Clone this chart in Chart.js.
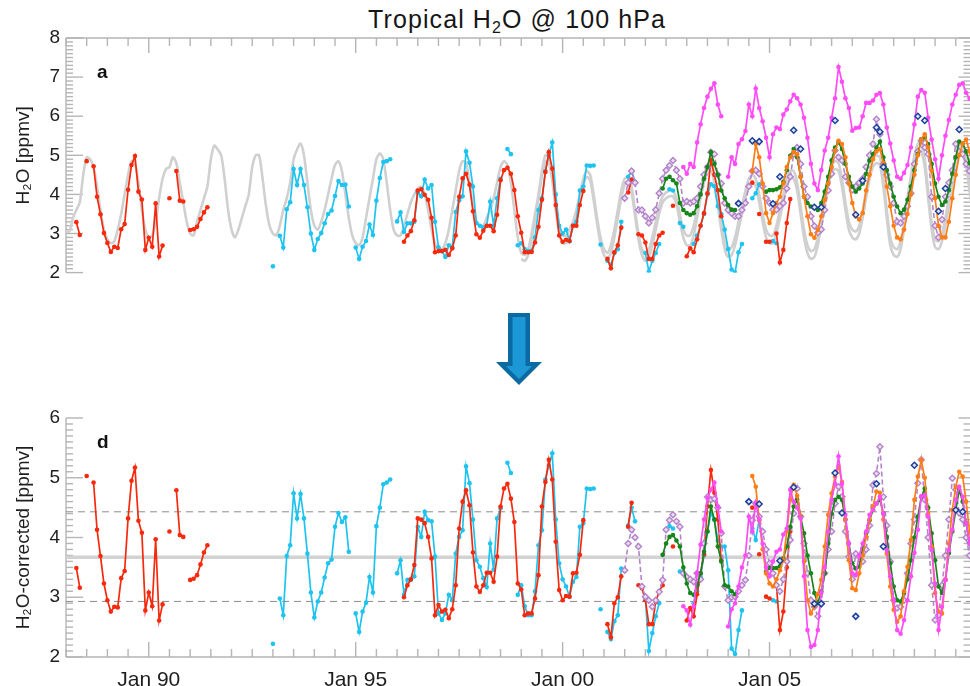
<!DOCTYPE html>
<html><head><meta charset="utf-8">
<script src="https://cdn.jsdelivr.net/npm/chart.js@4.4.1/dist/chart.umd.min.js"></script>
<style>
html,body{margin:0;padding:0;background:#fff;width:970px;height:686px;overflow:hidden;position:relative;font-family:"Liberation Sans",Arial,Helvetica,sans-serif;}
#title{position:absolute;left:0;width:1034px;top:5px;text-align:center;font-size:25px;letter-spacing:1.1px;color:#161616;white-space:nowrap;}
#title sub{font-size:16px;vertical-align:-5px;line-height:0;}
.box{position:absolute;left:0;}
#topBox{top:0;}
#botBox{top:400px;}
.lab{position:absolute;font-weight:bold;font-size:19px;color:#111;}
#arrow{position:absolute;left:0;top:0;pointer-events:none;}
</style></head>
<body>
<div id="title">Tropical H<sub>2</sub>O @ 100 hPa</div>
<div class="box" id="topBox"><canvas id="cTop" width="976" height="290"></canvas></div>
<div class="box" id="botBox"><canvas id="cBot" width="976" height="300"></canvas></div>
<div class="lab" style="left:97px;top:61px;">a</div>
<div class="lab" style="left:97px;top:431px;">d</div>
<svg id="arrow" width="970" height="686">
  <polygon points="508,313 530,313 530,362 542,362 519,385 496,362 508,362" fill="#0a6aa1"/>
  <polygon points="512.5,317 525.5,317 525.5,366 532,366 519,379 506,366 512.5,366" fill="#1b98d5"/>
</svg>
<script>
// ---------------- axis / tick data ----------------
const X0 = 1988, X1 = 2009.88;            // time axis range (decimal years)
const xTickYears = [1990, 1995, 2000, 2005];
const xTickLabels = ['Jan 90', 'Jan 95', 'Jan 00', 'Jan 05'];
const topYRange = [2, 8];
const botYRange = [2, 6];
const refMean = 3.67, refHigh = 4.43, refLow = 2.93;   // panel d reference lines

// ---------------- model (grey) monthly values, month index 0 = Jan 1988 ----------------
const grayA_start = 0;
const grayA = [
 3.05,3.05,3.4,3.6,3.8,4.5,4.95,4.9,4.7,4.2,3.6,3.1,
 2.85,2.75,2.8,3.1,3.5,4.0,4.5,4.85,4.8,4.3,3.6,3.1,
 2.9,2.95,3.3,3.9,4.4,4.65,4.7,4.95,4.8,4.3,3.8,3.3,
 3.0,2.95,3.3,3.6,3.9,4.2,4.9,5.25,5.15,5.0,4.4,3.6,
 3.1,2.9,3.1,3.4,3.7,4.0,4.7,5.0,5.0,4.4,3.7,3.2,
 3.0,2.95,3.2,3.6,3.9,4.3,4.9,5.15,5.3,5.0,4.3,3.6,
 3.2,3.1,3.3,3.6,4.0,4.4,4.75,4.85,4.6,4.0,3.4,2.95,
 2.75,2.7,2.9,3.4,3.9,4.4,4.9,5.05,4.9,4.3,3.6,3.1,
 2.95,2.95,3.2,3.5,3.8,4.0,4.15,4.2,4.0,3.6,3.1,2.75,
 2.6,2.6,2.75,3.1,3.6,4.1,4.6,4.85,4.8,4.3,3.7,3.3,
 3.2,3.2,3.4,3.6,3.9,4.3,4.7,4.85,4.75,4.3,3.6,2.9,
 2.5,2.45,2.6,3.0,3.5,4.0,4.6,5.0,4.95,4.5,3.8,3.2,
 2.95,2.95,3.1,3.3,3.6,4.0,4.4,4.6,4.5,4.0,3.4,2.9,
 2.6,2.5,2.7,3.1,3.6,4.1,4.4,4.45,4.2,3.6,3.0,2.6,
 2.5,2.6,2.9,3.3,3.7,3.95,4.05,4.1,4.1,3.9,3.5,3.1,
 2.95,2.95,3.2,3.6,4.1,4.5,4.75,4.8,4.5,3.9,3.3,2.8,
 2.6,2.65,2.9,3.3,3.7,4.1,4.4,4.5,4.4,4.0,3.5,3.1,
 2.95,2.95,3.2,3.6,4.0,4.4,4.6,4.6,4.3,3.7,3.1,2.7,
 2.55,2.6,2.9,3.4,3.9,4.4,4.75,4.85,4.8,4.4,3.8,3.3,
 3.1,3.05,3.2,3.6,4.1,4.6,4.9,5.0,4.95,4.4,3.6,2.9,
 2.65,2.6,2.8,3.3,3.9,4.5,5.0,5.3,5.3,4.9,4.1,3.3,
 2.85,2.8,3.0,3.4,3.9,4.4,4.9,5.25,5.2,4.9,4.3,3.6];
const grayB_start = 132;
const grayB = [
 2.35,2.3,2.45,2.85,3.35,3.9,4.45,4.85,4.8,4.35,3.6,3.0,
 2.75,2.75,2.9,3.15,3.45,3.85,4.25,4.45,4.35,3.85,3.25,2.75,
 2.45,2.35,2.5,2.9,3.4,3.9,4.25,4.3,4.05,3.45,2.85,2.45,
 2.3,2.4,2.7,3.1,3.5,3.8,3.9,3.95,3.95,3.75,3.3,2.9,
 2.7,2.7,2.95,3.4,3.9,4.3,4.55,4.6,4.3,3.7,3.1,2.6,
 2.4,2.45,2.7,3.1,3.5,3.9,4.2,4.3,4.2,3.8,3.3,2.9,
 2.75,2.75,3.0,3.4,3.8,4.2,4.4,4.4,4.1,3.5,2.9,2.5,
 2.35,2.4,2.7,3.2,3.7,4.2,4.55,4.65,4.6,4.2,3.6,3.1,
 2.9,2.85,3.0,3.4,3.9,4.4,4.7,4.8,4.75,4.2,3.4,2.7,
 2.45,2.4,2.6,3.1,3.7,4.3,4.8,5.1,5.1,4.7,3.9,3.1,
 2.65,2.6,2.8,3.2,3.7,4.2,4.7,5.05,5.0,4.7,4.1,3.4];

// ---------------- red series (two records) ----------------
const redA_start = 3;
const redA_top = [3.29,2.96,null,4.85,null,4.72,3.94,3.49,3.01,
 2.76,2.53,2.66,2.63,3.11,3.24,4.12,4.75,4.98,4.07,3.87,2.58,
 2.89,2.66,3.77,2.41,2.69,null,3.90,null,4.60,3.84,3.82,null,
 3.09,3.11,3.17,3.37,3.54,3.67];
const redA_bot = [3.49,3.16,null,5.03,null,4.92,4.13,3.69,3.23,
 2.95,2.76,2.84,2.83,3.32,3.44,4.32,4.95,5.17,4.28,4.08,2.78,
 3.08,2.85,3.97,2.61,2.88,null,4.10,null,4.79,4.04,4.01,null,
 3.29,3.31,3.37,3.55,3.75,3.87];
const redB_start = 98;
const redB_top = [2.79,2.95,3.06,3.34,4.10,4.13,3.99,3.86,3.40,2.52,
 2.55,2.55,2.58,2.45,2.62,2.95,3.94,4.41,4.53,4.25,3.57,2.98,
 2.89,3.07,3.20,3.20,3.06,3.48,4.36,4.62,4.68,4.53,4.11,3.44,
 3.02,2.52,2.52,2.53,2.77,3.17,3.86,4.57,5.08,4.66,3.73,2.95,
 2.79,2.84,2.81,3.20,3.20,3.73,4.09,null,null,null,null,null,
 null,2.35,2.11,2.52,2.70,3.15,null,4.05,4.38,null,2.98,2.95,
 2.77,2.35,2.35,2.73,2.95,3.02,null,null,3.71,null,null,null,
 2.42,2.62,2.52,2.85,3.2,3.52,4.03,4.88,4.5,4.11,3.44,null,
 null,null,null,null,null,null,null,4.3,null,3.5,null,2.79,
 2.79,null,3.0,2.26,2.58,3.27,3.88];
const redB_bot = [3.0,3.2,3.3,3.54,4.32,4.30,4.24,4.01,3.65,2.7,
 2.87,2.76,2.79,2.65,2.8,3.2,4.15,4.6,4.79,4.54,3.75,3.18,
 3.09,3.2,3.41,3.41,3.26,3.68,4.52,4.82,4.9,4.65,4.26,3.23,
 3.13,2.7,2.73,2.73,2.98,3.37,4.52,4.93,5.3,4.97,3.93,3.12,
 2.95,3.02,3.01,3.4,3.41,3.71,4.29,null,null,null,null,null,
 null,2.55,2.33,2.9,3.0,3.35,null,4.18,4.58,null,3.2,3.15,
 2.95,2.55,2.55,2.92,3.1,3.2,null,null,3.85,null,null,null,
 2.61,2.82,2.68,3.05,3.4,3.72,4.52,5.13,4.75,4.3,3.62,null,
 null,null,null,null,null,null,null,4.5,null,3.72,null,3.01,
 2.98,null,3.2,2.45,2.76,3.5,4.1];

// ---------------- cyan series ----------------
const cyan_start = 60;
const cyan_top = [2.16,null,2.94,2.64,3.62,3.80,4.65,4.24,4.65,4.24,3.67,3.00,
 2.58,2.86,3.01,3.26,3.50,3.59,3.96,4.34,4.24,4.25,3.69,null,
 2.64,2.35,2.66,2.81,3.23,2.96,3.84,4.42,4.83,4.85,4.90,null,
 3.31,3.54,3.04,3.26,3.26,3.3,4.05,3.95,4.38,4.15,4.24,3.3,
 2.65,2.55,2.4,2.7,2.65,3.55,3.85,3.95,5.1,4.81,4.2,3.27,
 3.2,3.15,3.2,3.82,3.2,3.9,4.4,null,5.16,5.03,null,2.7,
 2.75,2.6,2.55,2.55,2.9,3.6,3.9,4.6,5.0,5.33,4.0,3.2,
 3.0,3.1,2.8,3.2,3.3,4.1,4.2,4.74,4.73,4.74,null,2.72,
 null,2.3,2.2,2.5,2.6,3.3,null,4.45,4.6,4.32,null,null,
 2.5,2.03,2.3,2.5,2.73,null,null,4.13,4.1,null,3.27,3.17,
 null,null,2.73,2.95,3.2,3.5,4.0,4.26,4.21,3.7,3.5,3.1,
 2.6,2.08,2.0,2.52,2.73,null,null,3.9,4.03,4.26,null,null,
 null,2.81,2.75];
const cyan_bot = [2.22,null,2.98,2.7,3.69,3.87,4.74,4.32,4.73,4.32,3.73,3.08,
 2.66,2.93,3.08,3.33,3.57,3.63,4.18,4.41,4.26,4.34,3.76,null,
 2.73,2.42,2.76,2.91,3.34,3.08,4.19,4.50,4.89,4.92,4.97,null,
 3.40,3.62,3.04,3.29,3.29,3.35,4.18,4.01,4.43,4.29,4.27,3.68,
 2.73,2.62,2.73,3.04,2.95,3.73,4.01,4.12,5.19,4.91,4.3,3.62,
 3.51,3.32,3.17,3.9,3.46,4.32,4.49,null,5.25,5.08,null,3.04,
 3.2,2.85,2.7,2.7,3.1,3.87,4.12,4.97,5.2,5.41,4.3,3.57,
 3.3,3.18,3.01,3.26,3.34,4.18,4.24,4.82,4.81,4.82,null,2.8,
 null,2.42,2.3,2.6,2.70,3.48,null,4.2,4.5,4.27,null,null,
 3.0,2.1,2.4,2.68,2.9,null,null,4.19,4.15,null,3.43,3.4,
 null,null,2.9,3.1,3.35,3.7,4.1,4.4,4.3,3.95,3.85,3.85,
 3.45,2.14,2.05,2.45,2.78,null,null,4.15,3.96,4.3,null,null,
 null,2.95,2.93];

// ---------------- purple (dashed, diamonds) ----------------
const purple_start = 162;
const purple_top = [3.9,4.3,4.6,4.3,3.6,3.6,
 3.44,3.27,3.4,3.61,4.03,4.40,4.62,4.74,4.87,4.62,4.40,3.78,
 3.82,3.78,3.82,3.9,4.2,4.5,4.7,5.08,5.03,4.5,4.28,3.78,
 3.6,3.52,3.44,3.44,3.6,3.78,4.2,4.6,4.62,4.53,4.2,3.9,
 3.78,3.61,3.61,3.7,3.78,4.15,4.45,5.03,5.2,4.78,4.2,3.94,
 3.44,3.19,3.02,3.1,3.6,4.1,4.53,5.12,4.95,4.87,4.45,4.3,
 4.11,4.2,4.3,4.4,4.7,5.0,5.29,5.92,5.54,4.78,4.5,4.2,
 3.78,3.3,3.27,3.44,3.7,4.03,4.78,5.1,5.37,5.2,5.03,3.94,
 3.2,2.9,3.36,3.94,4.3,4.62,5.29,5.1,5.03,4.78,4.6,4.4];
const purple_bot = [3.45,3.9,4.13,4.0,3.85,3.18,
 3.01,2.95,2.84,2.95,3.09,3.29,4.13,4.29,4.38,4.27,4.18,3.4,
 3.34,3.3,3.26,3.4,3.3,3.9,4.68,4.63,4.65,4.5,4.07,3.18,
 2.95,3.0,3.01,3.1,3.2,3.29,3.7,4.29,4.57,4.35,4.1,3.8,
 3.57,3.4,3.2,3.1,3.3,3.6,3.96,4.4,4.82,4.35,3.9,3.4,
 2.95,2.84,2.68,2.9,3.4,3.8,4.1,4.57,4.85,4.68,4.1,3.68,
 3.3,3.73,3.68,3.6,3.8,4.2,4.88,5.07,5.52,4.68,4.2,3.6,
 2.95,2.82,2.84,2.95,3.4,3.9,4.3,4.91,5.3,4.63,4.0,3.2,
 2.62,2.7,3.2,3.7,4.3,4.99,4.8,4.41,4.3,4.0,3.7,3.5];

// ---------------- green ----------------
const green_start = 173;
const green_top = [4.15,4.40,4.45,4.36,4.28,3.78,3.6,
 3.52,3.48,3.52,3.7,4.0,4.4,4.7,5.08,4.78,4.5,4.1,3.9,
 3.73,3.61,3.6,null,null,null,null,null,null,null,null,4.07,
 4.11,4.11,4.13,4.18,4.32,4.62,4.99,5.16,4.95,4.45,3.94,3.78,
 3.69,3.65,3.6,3.78,4.07,4.45,4.87,5.2,5.33,5.16,4.78,4.45,
 4.2,4.07,4.15,4.28,4.53,4.87,5.03,5.2,5.35,4.95,4.62,4.28,
 3.94,3.69,3.52,3.61,3.86,4.2,4.62,5.03,5.41,5.46,5.29,4.78,
 4.28,3.94,3.73,3.82,4.11,4.53,4.95,5.35,5.3,5.1,4.8,4.5];
const green_bot = [3.71,3.9,4.01,4.04,3.95,3.85,3.5,
 3.23,3.07,3.04,3.2,3.4,3.76,4.1,4.52,4.3,3.85,3.6,3.2,
 3.18,3.1,3.05,null,null,null,null,null,null,null,null,3.43,
 3.49,3.49,3.49,3.52,3.65,3.85,4.18,4.52,4.63,4.35,4.07,3.7,
 3.4,3.07,2.9,3.1,3.4,3.9,4.4,4.63,4.68,4.63,4.3,3.9,
 3.57,3.48,3.51,3.82,4.07,4.29,4.46,4.57,4.63,4.4,4.01,3.57,
 3.18,2.95,2.93,3.07,3.3,3.62,4.0,4.35,4.68,4.82,4.5,4.07,
 3.62,3.18,3.07,3.29,3.74,4.1,4.46,4.8,4.6,4.24,3.9,3.6];

// ---------------- orange ----------------
const orange_start = 199;
const orange_top = [4.6,5.29,4.95,4.28,3.52,
 3.27,3.52,3.78,3.94,4.28,4.7,4.95,5.08,5.03,4.45,3.94,3.44,
 2.98,2.89,3.1,3.44,3.86,4.28,4.7,5.12,5.37,5.29,4.95,4.28,
 3.78,3.44,3.36,3.52,4.1,4.5,4.9,5.1,5.16,4.8,4.2,3.7,
 3.2,2.9,2.85,3.1,3.5,4.0,4.5,5.0,5.4,5.54,5.2,4.6,
 3.9,3.2,2.9,2.9,3.3,3.9,4.5,5.0,5.3,5.4,5.1,4.6];
const orange_bot = [5.03,4.85,4.29,3.8,3.4,
 3.23,3.18,3.3,3.45,3.62,4.1,4.63,4.88,4.7,4.35,3.6,2.95,
 2.73,2.85,3.05,3.29,3.85,4.38,4.74,5.02,5.19,4.93,4.3,3.62,
 3.15,3.12,3.4,3.7,4.01,4.3,4.52,4.77,4.75,4.3,3.73,3.18,
 2.79,2.59,2.68,3.1,3.51,3.96,4.63,5.02,5.3,5.0,4.4,3.85,
 3.07,2.76,2.73,3.3,3.9,4.46,4.85,5.1,5.02,4.6,4.1,3.7];

// ---------------- magenta ----------------
const magenta_start = 179;
const magenta_top = [4.70,
 4.53,4.78,4.7,5.33,5.79,6.21,6.5,6.7,6.84,6.3,6.0,null,
 4.45,4.95,4.78,5.29,5.41,5.62,6.3,6.0,6.71,6.21,5.87,5.45,
 4.95,5.54,5.71,5.67,6.04,6.17,6.38,6.55,6.46,6.3,5.96,5.45,
 4.78,4.28,4.11,4.62,5.12,5.45,5.96,6.46,7.26,6.88,6.46,6.21,
 5.63,5.7,5.71,6.0,6.34,6.34,6.4,6.55,6.59,6.3,5.71,5.3,
 4.87,4.45,4.4,4.55,4.75,5.2,5.79,6.5,6.67,6.6,5.96,5.4,
 4.9,4.4,5.0,5.5,5.9,6.3,6.55,6.8,6.84,6.6,6.45,6.3];
const magenta_bot = [2.85,
 2.78,2.54,2.85,3.4,3.88,4.3,4.66,4.8,4.92,4.52,4.1,null,
 2.51,2.8,2.9,3.18,3.5,3.7,4.35,4.1,4.58,4.3,3.9,3.5,
 3.35,3.6,3.76,3.8,4.05,4.15,4.8,4.6,4.5,4.32,3.35,2.45,
 2.17,2.2,2.45,3.08,3.5,4.1,4.63,4.9,5.36,4.9,4.38,3.9,
 3.4,3.37,3.7,3.9,4.1,4.38,4.46,4.57,4.68,4.4,3.79,3.35,
 2.95,2.45,2.39,2.62,2.95,3.35,3.74,4.13,4.69,4.71,4.35,3.79,
 3.23,2.45,2.84,3.29,3.79,4.13,4.63,4.85,4.68,4.24,3.9,3.6];

// ---------------- navy open diamonds (no line) ----------------
const navy_start = 195;
const navy_top = [3.77,null,null,null,5.37,null,5.35,null,null,
 null,3.76,null,4.45,null,null,null,5.64,null,5.16,null,null,
 null,3.67,null,3.67,null,null,null,5.89,null,null,null,null,
 null,3.48,null,4.35,null,null,null,5.71,5.6,4.7,null,null,
 null,null,null,null,null,null,null,6.0,null,5.89,null,null,
 null,3.57,null,4.15,null,null,null,5.66,null];
const navy_bot = [null,null,null,4.6,null,null,4.56,null,null,
 null,null,null,3.61,null,null,null,4.84,null,null,null,null,
 null,2.89,null,2.89,null,null,null,5.08,null,4.41,null,null,
 null,2.68,null,null,null,null,null,4.9,null,3.85,null,null,
 null,null,null,null,null,null,5.21,null,null,null,null,null,
 null,null,null,null,null,null,4.46,null,4.43];

// ---------------- helpers ----------------
function pts(start, vals) { return vals.map((v, i) => ({ x: X0 + (start + i) / 12, y: v })); }
function joinSegs(a, b) { return a.concat([{ x: (a[a.length - 1].x + b[0].x) / 2, y: null }], b); }

const C = {
  red: '#f7290c', cyan: '#1fc3ef', purple: '#b384c9', green: '#17861a',
  orange: '#ff7d16', magenta: '#ff4cf7', navy: '#1d3f9c', gray: '#d0d0d0'
};

function lineDS(label, data, color, order, extra) {
  return Object.assign({
    label, data, order, borderColor: color, backgroundColor: color,
    pointBackgroundColor: color, pointBorderColor: color, pointBorderWidth: 0,
    borderWidth: 1.7, pointRadius: 2.3, pointHoverRadius: 2.3, tension: 0, spanGaps: false
  }, extra || {});
}
function grayDS(label, data) {
  return { label, data, order: 20, borderColor: C.gray, borderWidth: 2.6, pointRadius: 0, tension: 0.25 };
}
function purpleDS(data) {
  return lineDS('purple', data, C.purple, 5, { borderDash: [5, 3], borderWidth: 1.6, pointStyle: 'rectRot', pointRadius: 3.0,
    pointBackgroundColor: '#eadcf1', pointBorderColor: C.purple, pointBorderWidth: 1.4 });
}
function navyDS(data) {
  return lineDS('navy', data, C.navy, 1, { showLine: false, pointStyle: 'rectRot', pointRadius: 3.0,
    pointBackgroundColor: '#dfe6f5', pointBorderColor: C.navy, pointBorderWidth: 1.5 });
}
function hline(label, v, dash, color, w) {
  return { label, data: [{ x: X0, y: v }, { x: X1, y: v }], order: 21, borderColor: color, borderWidth: w,
    borderDash: dash, pointRadius: 0 };
}

// frame & tick marks drawn from the chart's own scales
const framePlugin = {
  id: 'frame',
  beforeDatasetsDraw(chart, args, opts) {
    const { ctx, chartArea: { left, right, top, bottom }, scales: { x, y } } = chart;
    ctx.save();
    ctx.strokeStyle = '#b5b5b5';
    ctx.lineWidth = 1.4;
    const L = (a, b, c, d) => { ctx.beginPath(); ctx.moveTo(a, b); ctx.lineTo(c, d); ctx.stroke(); };
    L(left, top, left, bottom);
    const fy = opts.side === 'top' ? top : bottom;
    L(left, fy, right + 6, fy);
    for (let k = 0; X0 + k * 0.5 <= X1 + 1e-6; k++) {
      const t = X0 + k * 0.5, px = x.getPixelForValue(t);
      const major = Math.abs(t % 5) < 1e-6;
      const len = major ? 15 : 8;
      if (opts.side === 'top') L(px, top, px, top + len); else L(px, bottom, px, bottom - len);
    }
    for (let i = Math.round(y.min * 10); i <= Math.round(y.max * 10); i++) {
      const py = y.getPixelForValue(i / 10);
      const major = i % 10 === 0;
      L(left, py, left + (major ? 17 : 7), py);
      L(right, py, right - (major ? 13 : 8), py);
    }
    ctx.restore();
  }
};

Chart.defaults.font.family = '"Liberation Sans", Arial, Helvetica, sans-serif';
Chart.defaults.color = '#1e1e1e';

function makeOptions(yr, yTitle, side, showX) {
  const xScale = {
    type: 'linear', min: X0, max: X1, display: showX,
    grid: { display: false, drawTicks: false }, border: { display: false },
    afterBuildTicks: s => { s.ticks = xTickYears.map(v => ({ value: v })); },
    ticks: { autoSkip: false, maxRotation: 0, padding: 11, font: { size: 21 }, color: '#1e1e1e',
      callback: (v, i) => xTickLabels[i] }
  };
  if (showX) xScale.afterFit = s => { s.height = 43; };
  return {
    responsive: false, animation: false, events: [],
    layout: { padding: side === 'top' ? { top: 38, bottom: 13, left: 0, right: 4 } : { top: 18, bottom: 0, left: 0, right: 4 } },
    plugins: { legend: { display: false }, tooltip: { enabled: false }, frame: { side } },
    scales: {
      x: xScale,
      y: {
        min: yr[0], max: yr[1],
        grid: { display: false, drawTicks: false }, border: { display: false },
        afterFit: s => { s.width = 66; },
        ticks: { stepSize: 1, padding: 6, font: { size: 19 }, color: '#1e1e1e' },
        title: { display: true, text: yTitle, font: { size: 19 }, color: '#1e1e1e', padding: { top: 12, bottom: 0 } }
      }
    }
  };
}

// ---------------- top panel (a) ----------------
new Chart(document.getElementById('cTop'), {
  type: 'line',
  data: { datasets: [
    grayDS('model A', pts(grayA_start, grayA)),
    grayDS('model B', pts(grayB_start, grayB)),
    lineDS('red', joinSegs(pts(redA_start, redA_top), pts(redB_start, redB_top)), C.red, 6),
    lineDS('cyan', pts(cyan_start, cyan_top), C.cyan, 7),
    purpleDS(pts(purple_start, purple_top)),
    lineDS('green', pts(green_start, green_top), C.green, 4),
    lineDS('orange', pts(orange_start, orange_top), C.orange, 3),
    lineDS('magenta', pts(magenta_start, magenta_top), C.magenta, 2),
    navyDS(pts(navy_start, navy_top))
  ] },
  options: makeOptions(topYRange, 'H\u2082O [ppmv]', 'top', false),
  plugins: [framePlugin]
});

// ---------------- bottom panel (d) ----------------
new Chart(document.getElementById('cBot'), {
  type: 'line',
  data: { datasets: [
    hline('mean', refMean, [], '#d2d2d2', 3.5),
    hline('upper', refHigh, [7, 5], '#8c8c8c', 1),
    hline('lower', refLow, [7, 5], '#8c8c8c', 1),
    lineDS('red', joinSegs(pts(redA_start, redA_bot), pts(redB_start, redB_bot)), C.red, 6),
    lineDS('cyan', pts(cyan_start, cyan_bot), C.cyan, 7),
    purpleDS(pts(purple_start, purple_bot)),
    lineDS('green', pts(green_start, green_bot), C.green, 4),
    lineDS('orange', pts(orange_start, orange_bot), C.orange, 3),
    lineDS('magenta', pts(magenta_start, magenta_bot), C.magenta, 2),
    navyDS(pts(navy_start, navy_bot))
  ] },
  options: makeOptions(botYRange, 'H\u2082O-corrected [ppmv]', 'bottom', true),
  plugins: [framePlugin]
});
</script>
</body></html>
